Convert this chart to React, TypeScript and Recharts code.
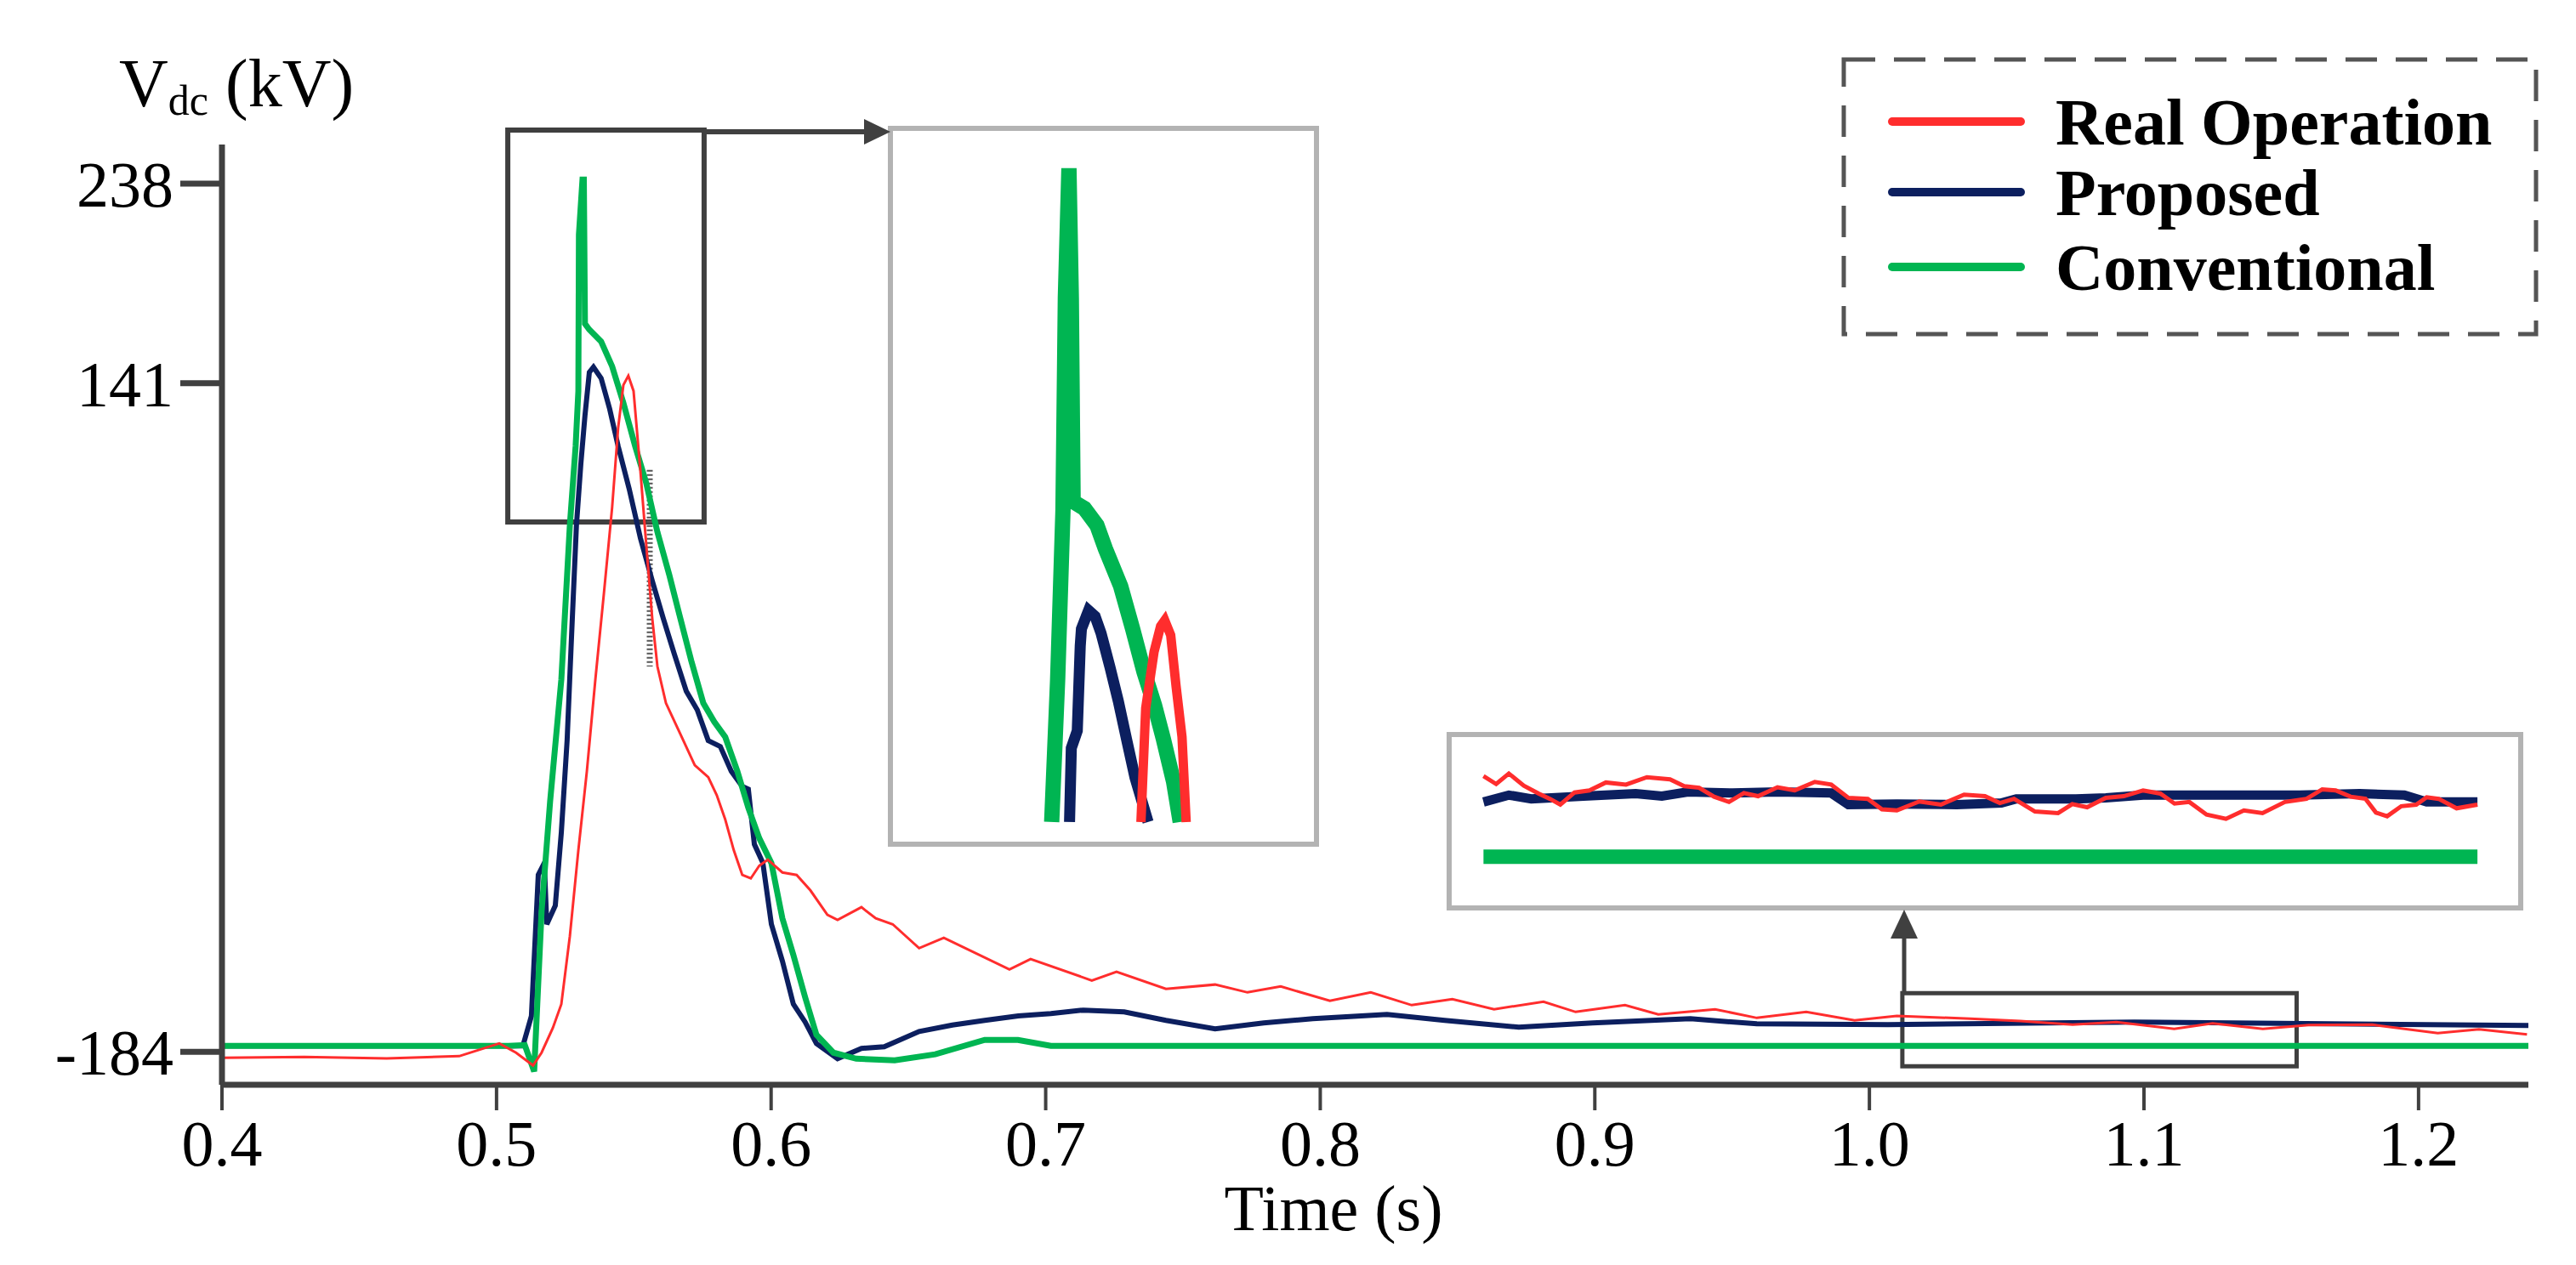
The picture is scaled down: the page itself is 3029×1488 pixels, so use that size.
import React from "react";
import {
  LineChart,
  Line,
  XAxis,
  YAxis,
  ReferenceArea,
  ReferenceLine,
} from "recharts";

// ---- data: [time (s), Vdc (kV)] ----
const realOperation: [number, number][] = [
  [0.4, -186.9], [0.43, -186.5], [0.46, -187.2], [0.4864, -186.1], [0.501, -179.9],
  [0.5071, -184.4], [0.5133, -190.6], [0.5164, -184.4], [0.5205, -172.4], [0.5236, -160.8],
  [0.5267, -127.8], [0.5298, -86.0], [0.5329, -47.6], [0.536, -2.9], [0.5391, 38.8],
  [0.5421, 80.6], [0.5443, 119.4], [0.5462, 140.1], [0.548, 144.6], [0.5499, 137.2],
  [0.5524, 98.3], [0.5545, 62.8], [0.5567, 26.8], [0.5586, 3.3], [0.5617, -14.5],
  [0.5669, -29.4], [0.5722, -44.7], [0.5771, -50.5], [0.5802, -59.2], [0.5833, -71.1],
  [0.5864, -86.0], [0.5895, -98.0], [0.5926, -99.7], [0.5957, -93.5], [0.5988, -90.6],
  [0.6041, -96.8], [0.6093, -98.0], [0.6143, -105.5], [0.6205, -117.4], [0.6242, -119.9],
  [0.6329, -113.7], [0.6381, -119.1], [0.6443, -122.0], [0.6539, -133.6], [0.6629, -128.6],
  [0.6868, -143.9], [0.6945, -138.9], [0.7168, -149.3], [0.7258, -145.1], [0.7438, -153.4],
  [0.7617, -151.3], [0.7735, -155.1], [0.7856, -152.2], [0.8035, -159.2], [0.8184, -155.1],
  [0.8333, -161.3], [0.8481, -158.4], [0.8633, -163.3], [0.8813, -159.6], [0.893, -164.6],
  [0.911, -161.3], [0.9231, -165.8], [0.9438, -163.3], [0.959, -167.5], [0.977, -164.6],
  [0.9946, -168.7], [1.01, -166.5], [1.0367, -167.9], [1.055, -169.0], [1.074, -170.8],
  [1.09, -169.5], [1.111, -172.8], [1.125, -170.2], [1.1433, -172.8], [1.16, -171.0],
  [1.1832, -170.8], [1.207, -174.9], [1.222, -173.0], [1.2395, -175.5],
];

const proposed: [number, number][] = [
  [0.4, -181.1], [0.5096, -181.1], [0.5127, -166.6], [0.5152, -98.0], [0.5174, -92.2],
  [0.5183, -122.0], [0.5214, -112.9], [0.5236, -77.3], [0.5257, -32.7], [0.5276, 26.8],
  [0.5291, 71.9], [0.5307, 101.7], [0.5322, 125.2], [0.5338, 146.3], [0.5353, 148.8],
  [0.5381, 143.4], [0.5412, 128.5], [0.5443, 110.3], [0.5483, 89.7], [0.5524, 65.7],
  [0.5567, 45.0], [0.5607, 26.8], [0.5648, 9.1], [0.5691, -8.7], [0.5731, -17.8],
  [0.5771, -32.7], [0.5815, -35.6], [0.5855, -47.6], [0.5895, -55.0], [0.5917, -56.3],
  [0.5939, -83.1], [0.597, -92.2], [0.6001, -122.0], [0.6041, -139.8], [0.6081, -160.8],
  [0.6124, -169.5], [0.6165, -179.9], [0.6242, -187.3], [0.6329, -182.3], [0.6412, -181.5],
  [0.6539, -174.1], [0.666, -171.0], [0.6778, -168.7], [0.69, -166.5], [0.7019, -165.4],
  [0.7137, -163.7], [0.7286, -164.6], [0.7438, -168.7], [0.7617, -172.8], [0.7794, -169.9],
  [0.7973, -167.9], [0.8243, -165.8], [0.8453, -168.7], [0.8723, -172.0], [0.8992, -169.9],
  [0.9348, -167.9], [0.959, -170.4], [1.0067, -170.8], [1.0965, -169.5], [1.24, -171.2],
];

const conventional: [number, number][] = [
  [0.4, -181.1], [0.5044, -181.1], [0.5103, -180.7], [0.5137, -193.5], [0.5164, -115.8],
  [0.5195, -62.5], [0.5236, -3.0], [0.5267, 71.9], [0.5288, 110.3], [0.5298, 137.2],
  [0.53, 213.3], [0.5313, 240.0], [0.5318, 240.0], [0.5322, 169.9], [0.5338, 167.0],
  [0.5381, 161.2], [0.5421, 149.2], [0.5462, 131.4], [0.5505, 110.3], [0.5545, 92.6],
  [0.5586, 68.6], [0.5629, 47.9], [0.5669, 26.9], [0.5709, 6.2], [0.5753, -14.5],
  [0.5793, -23.6], [0.5833, -31.0], [0.5877, -47.6], [0.5917, -65.4], [0.5957, -80.2],
  [0.6001, -92.2], [0.6041, -119.1], [0.6081, -136.9], [0.6124, -157.5], [0.6165, -175.7],
  [0.6227, -184.4], [0.631, -187.3], [0.645, -188.1], [0.6598, -185.2], [0.6778, -178.2],
  [0.6899, -178.2], [0.7019, -181.1], [1.24, -181.1],
];

// zoomed view of the peak (upper inset)
const peakReal: [number, number][] = [
  [0.5437, 105.4], [0.5445, 128.5], [0.5459, 139.9], [0.547, 145.1], [0.5477, 146.3],
  [0.5487, 143.3], [0.5496, 133.0], [0.5506, 122.7], [0.5513, 105.4],
];
const peakProposed: [number, number][] = [
  [0.5317, 105.4], [0.532, 120.4], [0.533, 123.9], [0.5335, 141.1], [0.5337, 144.6],
  [0.5349, 148.3], [0.536, 147.1], [0.537, 143.7], [0.5385, 136.8], [0.5399, 129.9],
  [0.5413, 122.1], [0.5427, 114.4], [0.5449, 105.4],
];
const peakConventional: [number, number][] = [
  [0.5287, 105.4], [0.5297, 134.2], [0.5306, 168.7], [0.531, 211.8], [0.5316, 238.0],
  [0.532, 211.8], [0.5323, 170.4], [0.5342, 169.0], [0.5363, 165.6], [0.5377, 160.9],
  [0.5403, 153.2], [0.5423, 144.6], [0.5442, 135.9], [0.546, 129.0], [0.5475, 122.1],
  [0.5492, 113.5], [0.5503, 105.4],
];

// zoomed view of the steady state (lower inset)
const steadyReal: [number, number][] = [
  [1.0166, -165.7], [1.0183, -167.2], [1.02, -165.2], [1.022, -167.5], [1.024, -169.0],
  [1.0255, -170.0], [1.0269, -171.1], [1.0288, -168.8], [1.0308, -168.4], [1.033, -166.9],
  [1.0357, -167.3], [1.0385, -165.9], [1.0416, -166.3], [1.0435, -167.6], [1.0455, -167.9],
  [1.0475, -169.6], [1.0495, -170.6], [1.0515, -168.9], [1.0534, -169.5], [1.056, -167.8],
  [1.0583, -168.4], [1.061, -166.8], [1.0632, -167.3], [1.0655, -169.8], [1.0681, -170.0],
  [1.07, -172.0], [1.072, -172.2], [1.075, -170.5], [1.0779, -171.1], [1.081, -169.2],
  [1.0838, -169.5], [1.0858, -170.8], [1.0877, -170.0], [1.0905, -172.4], [1.0936, -172.7],
  [1.0955, -171.0], [1.0975, -171.6], [1.1, -169.8], [1.1024, -169.5], [1.105, -168.4],
  [1.1073, -169.0], [1.1092, -170.9], [1.1112, -170.6], [1.1135, -173.0], [1.1161, -173.8],
  [1.1185, -172.2], [1.121, -172.7], [1.124, -170.6], [1.1269, -170.0], [1.129, -168.2],
  [1.1308, -168.4], [1.1328, -169.6], [1.1348, -170.0], [1.1362, -172.6], [1.1377, -173.3],
  [1.1396, -171.4], [1.1416, -171.1], [1.143, -169.7], [1.1446, -170.0], [1.147, -171.8],
  [1.1498, -171.1],
];
const steadyProposed: [number, number][] = [
  [1.0166, -170.6], [1.02, -169.3], [1.023, -170.0], [1.03, -169.5], [1.037, -169.0],
  [1.0405, -169.5], [1.044, -168.7], [1.05, -168.9], [1.056, -168.7], [1.0632, -168.9],
  [1.0655, -171.1], [1.072, -171.0], [1.08, -171.1], [1.086, -170.8], [1.088, -170.0],
  [1.096, -170.0], [1.1, -169.8], [1.105, -169.3], [1.115, -169.3], [1.126, -169.3],
  [1.134, -169.0], [1.14, -169.3], [1.143, -170.6], [1.1498, -170.6],
];
const steadyConventional: [number, number][] = [
  [1.0166, -181.0], [1.1498, -181.0],
];

const timeTicks = [0.4, 0.5, 0.6, 0.7, 0.8, 0.9, 1.0, 1.1, 1.2];
const voltTicks = [238, 141, -184];

const series = [
  { key: "real", name: "Real Operation", color: "#ff2d2d" },
  { key: "proposed", name: "Proposed", color: "#0c1f5f" },
  { key: "conventional", name: "Conventional", color: "#00b552" },
];

const toPoints = (arr: [number, number][]) => arr.map(([t, v]) => ({ t, v }));

const SERIF = "'Liberation Serif', 'Times New Roman', serif";
const AXIS = "#404040";

const Inset = ({
  left, top, width, height, xDomain, yDomain, real, prop, conv, widths,
}: {
  left: number; top: number; width: number; height: number;
  xDomain: [number, number]; yDomain: [number, number];
  real: [number, number][]; prop: [number, number][]; conv: [number, number][];
  widths: [number, number, number];
}) => (
  <>
    <div
      style={{
        position: "absolute", left: left - 3, top: top - 3, width: width + 6, height: height + 6,
        boxSizing: "border-box", border: "6px solid #b3b3b3", background: "#fff",
      }}
    />
    <div style={{ position: "absolute", left, top }}>
      <LineChart width={width} height={height} margin={{ top: 0, right: 0, bottom: 0, left: 0 }}>
        <XAxis dataKey="t" type="number" domain={xDomain} allowDataOverflow hide />
        <YAxis type="number" domain={yDomain} allowDataOverflow hide />
        <Line data={toPoints(prop)} dataKey="v" stroke={series[1].color} strokeWidth={widths[1]} dot={false} isAnimationActive={false} />
        <Line data={toPoints(conv)} dataKey="v" stroke={series[2].color} strokeWidth={widths[2]} dot={false} isAnimationActive={false} />
        <Line data={toPoints(real)} dataKey="v" stroke={series[0].color} strokeWidth={widths[0]} dot={false} isAnimationActive={false} />
      </LineChart>
    </div>
  </>
);

export default function App() {
  return (
    <div style={{ position: "absolute", left: 0, top: 0, width: 3029, height: 1488, background: "#fff", fontFamily: SERIF }}>
      <LineChart width={3029} height={1488} margin={{ top: 170, right: 56, bottom: 62, left: 61 }}>
        <XAxis
          dataKey="t"
          type="number"
          domain={[0.4, 1.24]}
          allowDataOverflow
          ticks={timeTicks}
          interval={0}
          tickFormatter={(v: number) => v.toFixed(1)}
          height={150}
          tickSize={30}
          tickMargin={11}
          axisLine={{ stroke: AXIS, strokeWidth: 7 }}
          tickLine={{ stroke: AXIS, strokeWidth: 4 }}
          tick={{ fontSize: 76, fontFamily: SERIF, fill: "#000" }}
        />
        <YAxis
          type="number"
          domain={[-200, 257]}
          allowDataOverflow
          ticks={voltTicks}
          interval={0}
          width={200}
          tickSize={49}
          tickMargin={8}
          axisLine={{ stroke: AXIS, strokeWidth: 7 }}
          tickLine={{ stroke: AXIS, strokeWidth: 7 }}
          tick={{ fontSize: 76, fontFamily: SERIF, fill: "#000" }}
        />
        <ReferenceArea x1={0.5041} x2={0.5756} y1={73.5} y2={264} ifOverflow="visible" stroke="#3f3f3f" strokeWidth={6} fill="none" fillOpacity={0} />
        <ReferenceArea x1={1.012} x2={1.1556} y1={-191} y2={-155.5} ifOverflow="visible" stroke="#3f3f3f" strokeWidth={5} fill="none" fillOpacity={0} />
        <ReferenceLine segment={[{ x: 0.5558, y: 98.8 }, { x: 0.5558, y: 3.3 }]} stroke="#555" strokeWidth={7} strokeDasharray="2 3" ifOverflow="visible" />
        <Line data={toPoints(proposed)} dataKey="v" name={series[1].name} stroke={series[1].color} strokeWidth={6} dot={false} isAnimationActive={false} />
        <Line data={toPoints(conventional)} dataKey="v" name={series[2].name} stroke={series[2].color} strokeWidth={7} dot={false} isAnimationActive={false} />
        <Line data={toPoints(realOperation)} dataKey="v" name={series[0].name} stroke={series[0].color} strokeWidth={3} dot={false} isAnimationActive={false} />
      </LineChart>

      <Inset
        left={1047} top={151} width={501} height={842}
        xDomain={[0.5016, 0.5732]} yDomain={[100.9, 246.1]}
        real={peakReal} prop={peakProposed} conv={peakConventional}
        widths={[11, 13, 18]}
      />
      <Inset
        left={1704} top={864} width={1260} height={204}
        xDomain={[1.012, 1.1556]} yDomain={[-190.7, -157.8]}
        real={steadyReal} prop={steadyProposed} conv={steadyConventional}
        widths={[5, 11, 17]}
      />

      <svg width={3029} height={1488} style={{ position: "absolute", left: 0, top: 0, pointerEvents: "none" }}>
        {/* axis titles */}
        <text x={140} y={125} fontSize={80} fontFamily={SERIF} fill="#000">
          V
          <tspan fontSize={50} dy={10}>dc</tspan>
          <tspan fontSize={80} dy={-10}> (kV)</tspan>
        </text>
        <text x={1568} y={1447} fontSize={76} fontFamily={SERIF} fill="#000" textAnchor="middle">
          Time (s)
        </text>

        {/* zoom arrows */}
        <line x1={828} y1={155} x2={1020} y2={155} stroke={AXIS} strokeWidth={6} />
        <polygon points="1016,140 1047,155 1016,170" fill={AXIS} />
        <line x1={2239} y1={1168} x2={2239} y2={1098} stroke={AXIS} strokeWidth={5} />
        <polygon points="2223,1104 2239,1070 2255,1104" fill={AXIS} />

        {/* legend */}
        <rect x={2168} y={70} width={814} height={323} fill="#fff" stroke="#555" strokeWidth={5} strokeDasharray="37 22" />
        {series.map((s, i) => {
          const cy = [143, 226, 314][i];
          return (
            <g key={s.key}>
              <line x1={2225} y1={cy} x2={2376} y2={cy} stroke={s.color} strokeWidth={10} strokeLinecap="round" />
              <text x={2417} y={cy + 27} fontSize={78} fontWeight="bold" fontFamily={SERIF} fill="#000">
                {s.name}
              </text>
            </g>
          );
        })}
      </svg>
    </div>
  );
}
